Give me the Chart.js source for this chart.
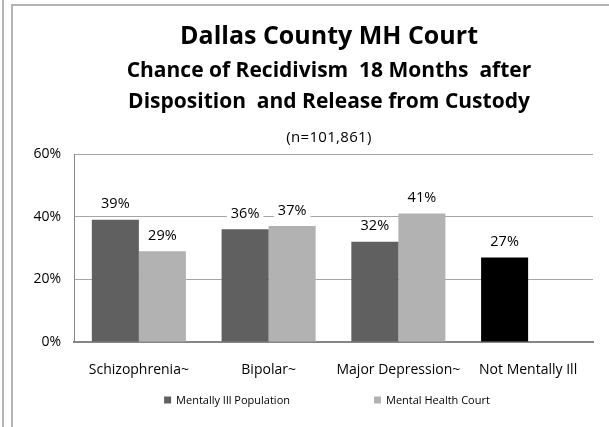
<!DOCTYPE html>
<html>
<head>
<meta charset="utf-8">
<script src="https://cdn.jsdelivr.net/npm/chart.js@4.4.1/dist/chart.umd.min.js"></script>
<style>
    html, body { margin: 0; padding: 0; background: #fff; }
    #wrap { position: relative; width: 609px; height: 427px; overflow: hidden; }
    #chart { position: absolute; left: 0; top: 0; }
    .rule { position: absolute; background: #b4b4b4; }
</style>
</head>
<body>
<div id="wrap">
    <div class="rule" style="left:2px;top:0;width:2px;height:427px;"></div>
    <div class="rule" style="left:11px;top:4px;width:2px;height:423px;"></div>
    <div class="rule" style="left:11px;top:4px;width:598px;height:2px;"></div>
    <canvas id="chart" width="609" height="427"></canvas>
</div>
<script>
// Chart data
const categories = ['Schizophrenia~', 'Bipolar~', 'Major Depression~', 'Not Mentally Ill'];
const mentallyIll = [39, 36, 32, 27];
const mentalHealthCourt = [29, 37, 41, null];
const yTicks = [0, 20, 40, 60];
const titleLines = [
    'Dallas County MH Court',
    'Chance of Recidivism  18 Months  after',
    'Disposition  and Release from Custody'
];
const subtitle = '(n=101,861)';

const FONT = '"Open Sans", "Liberation Sans", sans-serif';
const DARK = '#606060';
const LIGHT = '#b2b2b2';

// Title block, drawn centred over the plot
const titlePlugin = {
    id: 'titleBlock',
    afterDraw: function (chart) {
        const ctx = chart.ctx;
        const cx = 329;
        ctx.save();
        ctx.fillStyle = '#000';
        ctx.textAlign = 'center';
        ctx.textBaseline = 'alphabetic';
        ctx.font = 'bold 25px ' + FONT;
        ctx.fillText(titleLines[0], cx, 44);
        ctx.font = 'bold 21px ' + FONT;
        ctx.fillText(titleLines[1], cx, 77);
        ctx.fillText(titleLines[2], cx, 108);
        ctx.font = '15px ' + FONT;
        ctx.letterSpacing = '0.3px';
        ctx.fillText(subtitle, cx, 142);
        ctx.restore();
    }
};

// Value labels above bars, on a white box that breaks the gridlines
const valueLabels = {
    id: 'valueLabels',
    afterDatasetsDraw: function (chart) {
        const ctx = chart.ctx;
        ctx.save();
        ctx.font = '14.5px ' + FONT;
        ctx.textAlign = 'center';
        ctx.textBaseline = 'middle';
        chart.data.datasets.forEach((ds, i) => {
            const meta = chart.getDatasetMeta(i);
            meta.data.forEach((bar, j) => {
                const v = ds.data[j];
                if (v === null || v === undefined) return;
                const text = v + '%';
                const w = ctx.measureText(text).width + 8;
                const y = bar.y - 15.5;
                ctx.fillStyle = '#fff';
                ctx.fillRect(bar.x - w / 2, y - 8, w, 16);
                ctx.fillStyle = '#000';
                ctx.fillText(text, bar.x, y);
            });
        });
        ctx.restore();
    }
};

// Legend at the bottom with wide spacing between items
const bottomLegend = {
    id: 'bottomLegend',
    afterDraw: function (chart) {
        const ctx = chart.ctx;
        const box = 7, gapText = 5, gapItems = 84, cx = 327, cy = 400;
        ctx.save();
        ctx.font = '11px ' + FONT;
        ctx.textBaseline = 'middle';
        const items = chart.data.datasets.map(ds => ({
            text: ds.label,
            color: Array.isArray(ds.backgroundColor) ? ds.backgroundColor[0] : ds.backgroundColor
        }));
        const widths = items.map(it => box + gapText + ctx.measureText(it.text).width);
        const total = widths.reduce((a, b) => a + b, 0) + gapItems * (items.length - 1);
        let x = cx - total / 2;
        items.forEach((it, i) => {
            ctx.fillStyle = it.color;
            ctx.fillRect(x, cy - box / 2, box, box);
            ctx.fillStyle = '#000';
            ctx.fillText(it.text, x + box + gapText, cy + 0.5);
            x += widths[i] + gapItems;
        });
        ctx.restore();
    }
};

const ctx = document.getElementById('chart').getContext('2d');
new Chart(ctx, {
    type: 'bar',
    data: {
        labels: categories,
        datasets: [
            {
                label: 'Mentally Ill Population',
                data: mentallyIll,
                backgroundColor: [DARK, DARK, DARK, '#000000']
            },
            {
                label: 'Mental Health Court',
                data: mentalHealthCourt,
                backgroundColor: LIGHT
            }
        ]
    },
    options: {
        responsive: false,
        animation: false,
        events: [],
        categoryPercentage: 0.725,
        barPercentage: 1,
        layout: { padding: { top: 154, right: 16, left: 0, bottom: 0 } },
        plugins: {
            legend: { display: false },
            title: { display: false },
            tooltip: { enabled: false }
        },
        scales: {
            x: {
                grid: { display: false, drawTicks: false },
                border: { color: '#868686', width: 2 },
                ticks: { color: '#000', font: { family: FONT, size: 14 }, padding: 20, maxRotation: 0 },
                afterFit: function (scale) { scale.height = 85; }
            },
            y: {
                min: 0,
                max: 60,
                afterBuildTicks: function (scale) {
                    scale.ticks = yTicks.map(v => ({ value: v }));
                },
                grid: { color: '#a6a6a6', drawTicks: false },
                border: { color: '#868686', width: 1 },
                ticks: {
                    color: '#000',
                    font: { family: FONT, size: 14 },
                    padding: 13,
                    callback: function (v) { return v + '%'; }
                },
                afterFit: function (scale) { scale.width = 74; }
            }
        }
    },
    plugins: [titlePlugin, valueLabels, bottomLegend]
});
</script>
</body>
</html>
